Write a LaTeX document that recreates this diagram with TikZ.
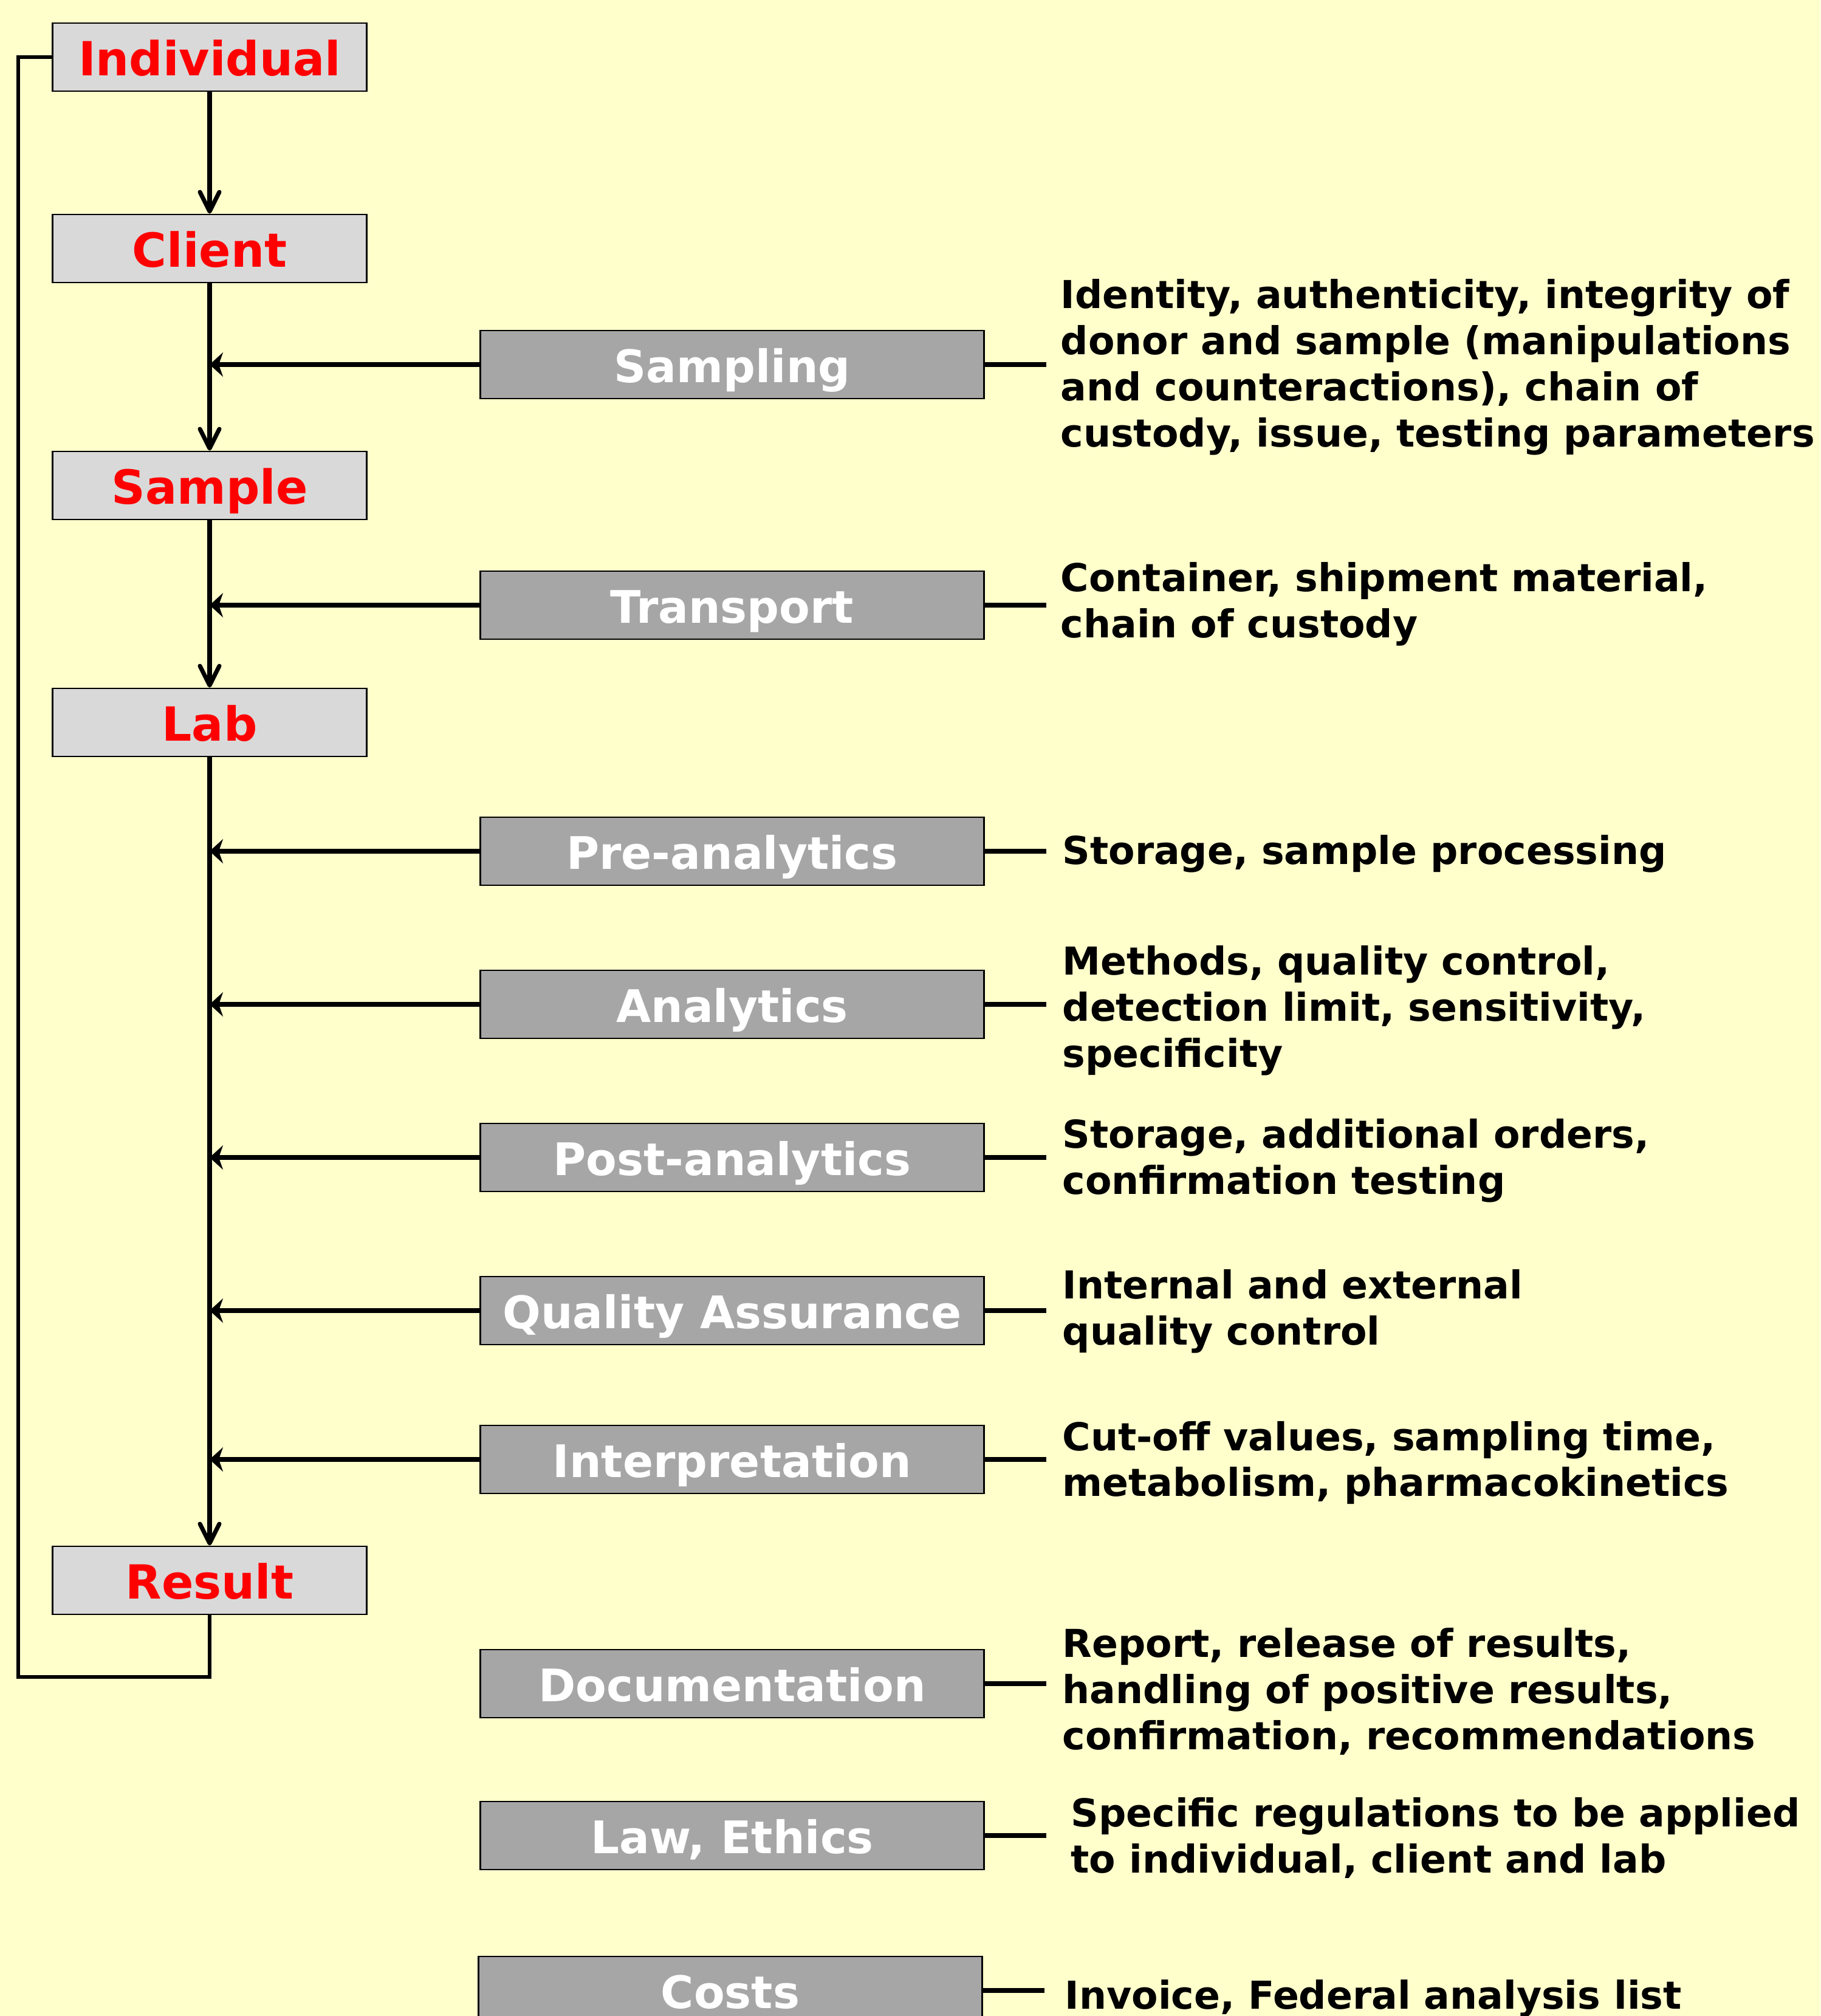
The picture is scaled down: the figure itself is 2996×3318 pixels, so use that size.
\documentclass[tikz,border=0pt]{standalone}
\usepackage{fontspec}
\setmainfont{DejaVu Sans}
\usetikzlibrary{arrows.meta}

\definecolor{paper}{HTML}{FFFFCC}
\definecolor{stagegray}{HTML}{D9D9D9}
\definecolor{factorgray}{HTML}{A6A6A6}

\tikzstyle{stage}=[draw,line width=0.8pt,fill=stagegray,minimum width=5.16cm,minimum height=1.12cm,inner sep=0pt,text height=17.6pt,text depth=0pt,text=red,font=\fontsize{22}{26}\selectfont\bfseries]
\tikzstyle{factor}=[draw,line width=0.8pt,fill=factorgray,minimum width=8.28cm,minimum height=1.12cm,inner sep=0pt,text height=16.8pt,text depth=0pt,text=white,font=\fontsize{21}{25}\selectfont\bfseries]
\tikzstyle{note}=[anchor=west,align=left,inner sep=0pt,yshift=-0.45mm,font=\fontsize{18}{21.6}\selectfont\bfseries]
\tikzstyle{flow}=[draw,line width=2pt,-{Straight Barb[length=3.2mm,width=3.2mm,round]}]
\tikzstyle{feed}=[draw,line width=2.2pt,-{Stealth[length=2.2mm,width=4mm,inset=0.7mm]}]
\tikzstyle{stub}=[draw,line width=2.2pt,-]
\tikzstyle{back}=[draw,line width=1.7pt,-]

\begin{document}
\begin{tikzpicture}[x=0.01cm, y=-0.01cm]
    \useasboundingbox (0,0) rectangle (2996,3318);
    \fill[paper] (0,0) rectangle (2996,3318);
    % First we draw the stages on the left
    \foreach \pos/\name/\label in {{(345,94)/ind/Individual}, {(345,409)/cli/Client}, {(345,799)/smp/Sample}, {(345,1189)/lab/Lab}, {(345,2601)/res/Result}}
        \node[stage] (\name) at \pos {\label};
    % Then the factors in the middle
    \foreach \pos/\name/\label in {{(1205,600)/samp/Sampling}, {(1205,996)/trans/Transport}, {(1205,1401)/pre/Pre-analytics}, {(1205,1653)/ana/Analytics}, {(1205,1905)/post/Post-analytics}, {(1205,2157)/qa/Quality Assurance}, {(1205,2402)/int/Interpretation}, {(1205,2771)/doc/Documentation}, {(1205,3021)/law/{Law, Ethics}}, {(1202,3276)/cost/Costs}}
        \node[factor] (\name) at \pos {\label};
    % Notes on the right
    \node[note] (sampnote) at (1745,600) {Identity, authenticity, integrity of\\donor and sample (manipulations\\and counteractions), chain of\\custody, issue, testing parameters};
    \node[note] (transnote) at (1745,990) {Container, shipment material,\\chain of custody};
    \node[note] (prenote) at (1748,1401) {Storage, sample processing};
    \node[note] (ananote) at (1748,1659) {Methods, quality control,\\detection limit, sensitivity,\\specificity};
    \node[note] (postnote) at (1748,1906) {Storage, additional orders,\\confirmation testing};
    \node[note] (qanote) at (1748,2154) {Internal and external\\quality control};
    \node[note] (intnote) at (1748,2403) {Cut-off values, sampling time,\\metabolism, pharmacokinetics};
    \node[note] (docnote) at (1748,2779) {Report, release of results,\\handling of positive results,\\confirmation, recommendations};
    \node[note] (lawnote) at (1762,3020) {Specific regulations to be applied\\to individual, client and lab};
    \node[note] (costnote) at (1752,3285) {Invoice, Federal analysis list};
    % Main flow down the left
    \foreach \source/ \dest in {ind/cli,cli/smp,smp/lab,lab/res}
        \path[flow] (\source) -- (\dest);
    % Factors feed into the main flow
    \foreach \name in {samp,trans,pre,ana,post,qa,int}
        \path[feed] (\name.west) -- (\name.west -| lab.center);
    \foreach \name in {samp,trans,pre,ana,post,qa,int,doc,law,cost}
        \path[stub] (\name.east) -- ++(101,0);
    % Result goes back to the individual
    \coordinate (turn) at (30,2760);
    \path[back] (res.south) |- (turn) |- (ind.west);
\end{tikzpicture}
\end{document}
